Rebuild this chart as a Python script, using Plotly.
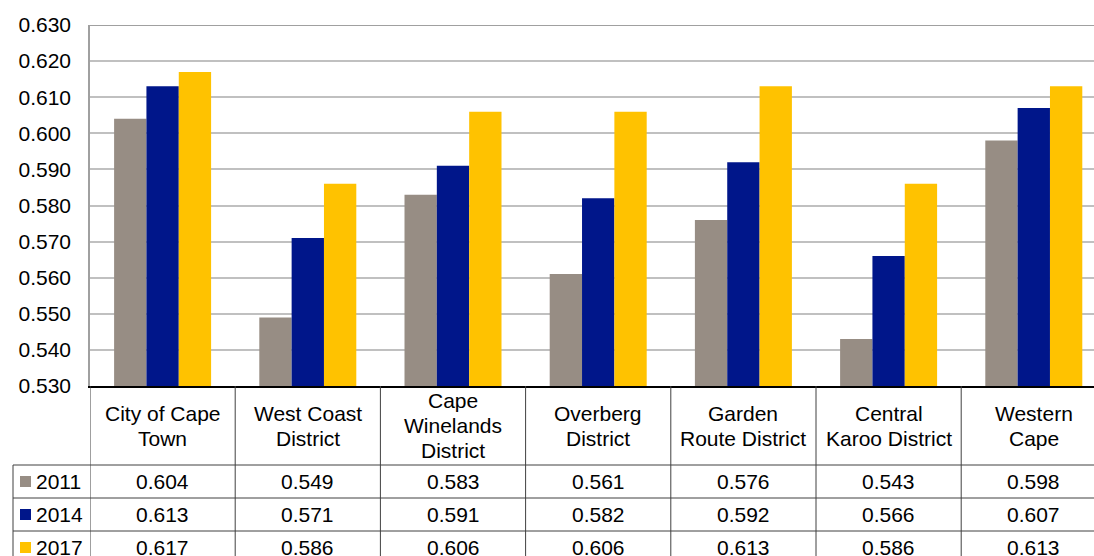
import plotly.graph_objects as go

categories = ["City of Cape<br>Town", "West Coast<br>District", "Cape<br>Winelands<br>District",
              "Overberg<br>District", "Garden<br>Route District", "Central<br>Karoo District",
              "Western<br>Cape"]
series_names = ["2011", "2014", "2017"]
v2011 = [0.604, 0.549, 0.583, 0.561, 0.576, 0.543, 0.598]
v2014 = [0.613, 0.571, 0.591, 0.582, 0.592, 0.566, 0.607]
v2017 = [0.617, 0.586, 0.606, 0.606, 0.613, 0.586, 0.613]
colors = ["#978d84", "#00168a", "#ffc200"]
y_ticks = [0.530, 0.540, 0.550, 0.560, 0.570, 0.580, 0.590, 0.600, 0.610, 0.620, 0.630]

W, H = 1094, 556
ML, MT, MB = 90, 25, 170
PW, PH = W - ML, H - MT - MB
CAT_W = 145.2
FONT = "Liberation Sans, Arial, sans-serif"
FS = 21

def py(p):  # pixel y -> paper y
    return (H - MB - p) / PH

def px(p):  # pixel x -> paper x
    return (p - ML) / PW

fig = go.Figure()
series = [v2011, v2014, v2017]
for name, vals, c in zip(series_names, series, colors):
    fig.add_trace(go.Bar(x=categories, y=vals, name=name, marker=dict(color=c, line=dict(width=0)),
                         showlegend=False))

n = len(categories)
shapes = []
annotations = []
line_col = "#404040"
# top border
shapes.append(dict(type="line", xref="paper", yref="y", x0=0, x1=1, y0=y_ticks[-1], y1=y_ticks[-1],
                   line=dict(color="#808080", width=1.5)))
# vertical dividers in table
for i in range(n + 1):
    shapes.append(dict(type="line", xref="x", yref="paper", x0=i - 0.5, x1=i - 0.5,
                       y0=0, y1=py(H + 5), line=dict(color=line_col, width=1)))
# horizontal row lines
row_tops = [465, 498, 531]
for rt in row_tops:
    shapes.append(dict(type="line", xref="paper", yref="paper", x0=px(13), x1=1.05,
                       y0=py(rt), y1=py(rt), line=dict(color=line_col, width=1)))
# legend column left border
shapes.append(dict(type="line", xref="paper", yref="paper", x0=px(13), x1=px(13),
                   y0=py(465), y1=py(H + 5), line=dict(color=line_col, width=1)))

# header labels
for i, cat in enumerate(categories):
    lines = cat.split("<br>")
    k = len(lines)
    for j, ln in enumerate(lines):
        cy = 425.5 + (j - (k - 1) / 2) * 25
        annotations.append(dict(x=i, y=py(cy), xref="x", yref="paper", text=ln, showarrow=False,
                                xanchor="center", yanchor="middle",
                                font=dict(family=FONT, size=FS, color="#000")))
# rows
for r, (name, vals, c) in enumerate(zip(series_names, series, colors)):
    top = row_tops[r]
    cy = top + 16.5
    shapes.append(dict(type="rect", xref="paper", yref="paper", x0=px(20), x1=px(31),
                       y0=py(cy - 5.5), y1=py(cy + 5.5), fillcolor=c, line=dict(width=0)))
    annotations.append(dict(x=px(34), y=py(cy), xref="paper", yref="paper", text=name,
                            showarrow=False, xanchor="left", yanchor="middle",
                            font=dict(family=FONT, size=FS, color="#000")))
    for i, v in enumerate(vals):
        annotations.append(dict(x=i, y=py(cy), xref="x", yref="paper", text=f"{v:.3f}",
                                showarrow=False, xanchor="center", yanchor="middle",
                                font=dict(family=FONT, size=FS, color="#000")))

fig.update_layout(
    width=W, height=H,
    margin=dict(l=ML, r=0, t=MT, b=MB, pad=0),
    paper_bgcolor="white", plot_bgcolor="white",
    barmode="group", bargap=1 - 97 / CAT_W, bargroupgap=0,
    font=dict(family=FONT, size=FS, color="#000"),
    shapes=shapes, annotations=annotations,
    xaxis=dict(type="category", range=[-0.5, -0.5 + PW / CAT_W], showticklabels=False,
               showgrid=False, showline=True, linecolor="#000", linewidth=1.5, ticks="",
               zeroline=False, fixedrange=True),
    yaxis=dict(range=[y_ticks[0], y_ticks[-1]], tickvals=y_ticks, tickformat=".3f",
               showgrid=True, gridcolor="#c0c0c0", gridwidth=2, showline=True,
               linecolor="#a0a0a0", linewidth=1.5, ticks="", ticklabelstandoff=13,
               zeroline=False, tickfont=dict(family=FONT, size=FS, color="#000")),
)
fig.write_html("out.html")
